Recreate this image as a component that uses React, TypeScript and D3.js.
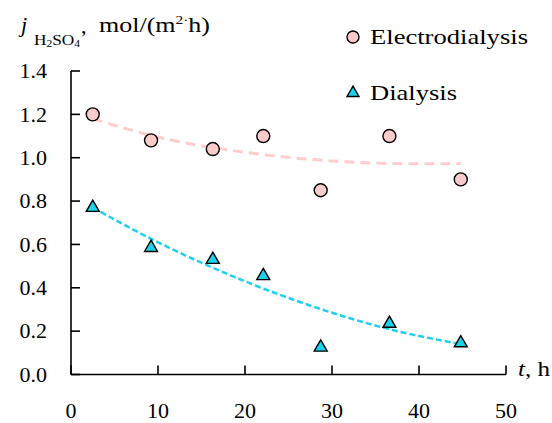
import React from "react";
import * as d3 from "d3";

const timeH = [2.5, 9.2, 16.3, 22.1, 28.7, 36.6, 44.8];
const electrodialysis = [1.2, 1.08, 1.04, 1.1, 0.85, 1.1, 0.9];
const dialysis = [0.77, 0.585, 0.53, 0.455, 0.125, 0.235, 0.145];

const edTrendX = [2.5, 10, 20, 30, 40, 44.8];
const edTrendY = [1.18, 1.095, 1.025, 0.985, 0.972, 0.973];
const dTrendX = [2.5, 10, 20, 30, 36, 44.8];
const dTrendY = [0.77, 0.61, 0.43, 0.285, 0.215, 0.14];

const xTicks = [0, 10, 20, 30, 40, 50];
const yTicks = [0, 0.2, 0.4, 0.6, 0.8, 1.0, 1.2, 1.4];

const FONT = "'Liberation Serif', 'Times New Roman', serif";

export default function App() {
  const W = 552;
  const H = 423;
  const x = d3.scaleLinear().domain([0, 50]).range([71, 506]);
  const y = d3.scaleLinear().domain([0, 1.4]).range([374.5, 71]);

  const line = d3
    .line<[number, number]>()
    .x((d) => x(d[0]))
    .y((d) => y(d[1]))
    .curve(d3.curveMonotoneX);

  const edTrend = line(edTrendX.map((v, i) => [v, edTrendY[i]]) as [number, number][]) || "";
  const dTrend = line(dTrendX.map((v, i) => [v, dTrendY[i]]) as [number, number][]) || "";

  const tri = (cx: number, cy: number, s = 13) => {
    const h = (s * Math.sqrt(3)) / 2;
    return `M${cx},${cy - (2 * h) / 3}L${cx + s / 2},${cy + h / 3}L${cx - s / 2},${cy + h / 3}Z`;
  };

  const circleFill = "#fbcaca";
  const triFill = "#1ad3ea";
  const FS = 22;

  return (
    <svg
      width={W}
      height={H}
      style={{ position: "absolute", left: 0, top: 0, background: "#fff" }}
      fontFamily={FONT}
    >
      <rect x={0} y={0} width={W} height={H} fill="#fff" />
      {/* trend lines */}
      <path d={edTrend} fill="none" stroke="#ffcdcd" strokeWidth={3} strokeDasharray="10,6" />
      <path d={dTrend} fill="none" stroke="#1fd0f0" strokeWidth={2.5} strokeDasharray="6,3" />

      {/* axes */}
      <line x1={x(0)} x2={x(0)} y1={y(1.4)} y2={y(0)} stroke="#000" strokeWidth={1.6} />
      <line x1={x(0)} x2={x(50)} y1={y(0)} y2={y(0)} stroke="#000" strokeWidth={1.6} />
      {yTicks.map((t) => (
        <g key={"y" + t}>
          <line x1={x(0)} x2={x(0) + 9} y1={y(t)} y2={y(t)} stroke="#000" strokeWidth={1.6} />
          <text x={47} y={y(t)} dy="0.33em" textAnchor="end" fontSize={FS}>
            {t.toFixed(1)}
          </text>
        </g>
      ))}
      {xTicks.map((t) => (
        <g key={"x" + t}>
          <line x1={x(t)} x2={x(t)} y1={y(0)} y2={y(0) - 9} stroke="#000" strokeWidth={1.6} />
          <text x={x(t)} y={418} textAnchor="middle" fontSize={FS}>
            {t}
          </text>
        </g>
      ))}

      {/* axis titles */}
      <text x={518} y={376} fontSize={FS} textLength={32} lengthAdjust="spacingAndGlyphs">
        <tspan fontStyle="italic">t</tspan>
        <tspan>, h</tspan>
      </text>
      <text x={21} y={32} fontSize={FS} fontStyle="italic">
        j
      </text>
      <text x={34} y={45} fontSize={15} textLength={46} lengthAdjust="spacingAndGlyphs">
        <tspan>H</tspan>
        <tspan fontSize={10} dy={2}>2</tspan>
        <tspan dy={-2}>SO</tspan>
        <tspan fontSize={10} dy={2}>4</tspan>
      </text>
      <text x={81} y={33} fontSize={FS}>
        ,
      </text>
      <text x={99} y={32} fontSize={FS} textLength={111} lengthAdjust="spacingAndGlyphs">
        <tspan>mol/(m</tspan>
        <tspan fontSize={13} dy={-8}>2</tspan>
        <tspan fontSize={13}>·</tspan>
        <tspan dy={8}>h)</tspan>
      </text>

      {/* markers */}
      {timeH.map((t, i) => (
        <circle
          key={"c" + i}
          cx={x(t)}
          cy={y(electrodialysis[i])}
          r={6.5}
          fill={circleFill}
          stroke="#000"
          strokeWidth={1.4}
        />
      ))}
      {timeH.map((t, i) => (
        <path key={"t" + i} d={tri(x(t), y(dialysis[i]))} fill={triFill} stroke="#000" strokeWidth={1.4} />
      ))}

      {/* legend */}
      <circle cx={353} cy={37} r={6} fill={circleFill} stroke="#000" strokeWidth={1.4} />
      <text x={370} y={44} fontSize={FS} textLength={158} lengthAdjust="spacingAndGlyphs">
        Electrodialysis
      </text>
      <path d={tri(353, 93, 12)} fill={triFill} stroke="#000" strokeWidth={1.4} />
      <text x={370} y={100} fontSize={FS} textLength={87} lengthAdjust="spacingAndGlyphs">
        Dialysis
      </text>
    </svg>
  );
}
